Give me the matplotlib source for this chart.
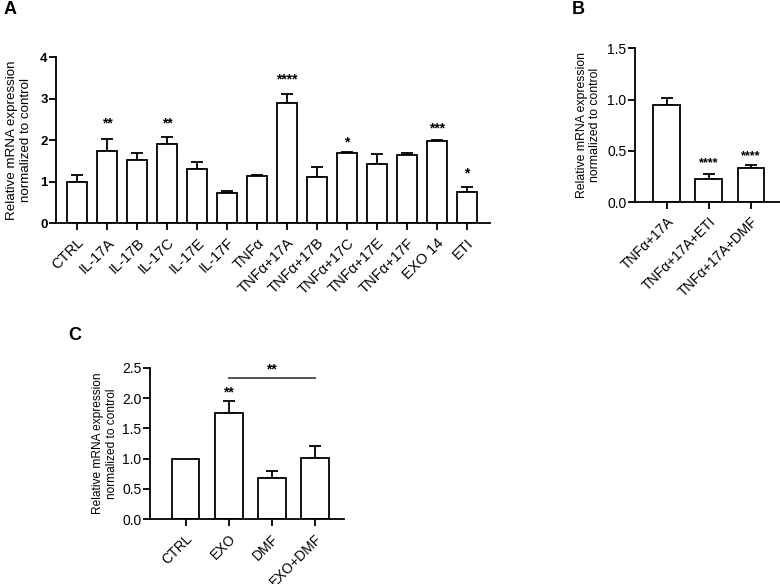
import numpy as np
import matplotlib
matplotlib.use("Agg")
import matplotlib.pyplot as plt

plt.rcParams["font.family"] = ["Liberation Sans", "DejaVu Sans"]

# ── Data ─────────────────────────────────────────────────────────────────────
a_labels = ["CTRL", "IL-17A", "IL-17B", "IL-17C", "IL-17E", "IL-17F", "TNFα",
            "TNFα+17A", "TNFα+17B", "TNFα+17C", "TNFα+17E", "TNFα+17F",
            "EXO 14", "ETI"]
a_mean = [1.00, 1.73, 1.53, 1.91, 1.30, 0.73, 1.13, 2.90, 1.10, 1.70, 1.42, 1.64, 1.98, 0.75]
a_err = [0.15, 0.29, 0.17, 0.16, 0.18, 0.05, 0.02, 0.21, 0.25, 0.02, 0.24, 0.06, 0.02, 0.11]
a_stars = ["", "**", "", "**", "", "", "", "****", "", "*", "", "", "***", "*"]
a_star_y = [0, 2.41, 0, 2.41, 0, 0, 0, 3.47, 0, 1.94, 0, 0, 2.29, 1.20]

b_labels = ["TNFα+17A", "TNFα+17A+ETI", "TNFα+17A+DMF"]
b_mean = [0.95, 0.23, 0.33]
b_err = [0.07, 0.04, 0.03]
b_stars = ["", "****", "****"]
b_star_y = [0, 0.38, 0.45]

c_labels = ["CTRL", "EXO", "DMF", "EXO+DMF"]
c_mean = [1.00, 1.76, 0.68, 1.01]
c_err = [0.0, 0.20, 0.12, 0.20]
c_stars = ["", "**", "", ""]
c_star_y = [0, 2.10, 0, 0]

YLABEL = "Relative mRNA expression\nnormalized to control"


def bar_panel(ax, labels, mean, err, stars, star_y, width, xlim, ylim, yticks, yticklabels,
              xtick_fs=10, ytick_fs=9, ytick_bold=False, ylabel_fs=9, star_fs=9, label_x=-0.2):
    x = np.arange(len(labels))
    ax.bar(x, mean, width=width, color="white", edgecolor="black", linewidth=1.3, zorder=2)
    for xi, m, e in zip(x, mean, err):
        if e > 0:
            ax.errorbar(xi, m, yerr=[[0], [e]], fmt="none", ecolor="black",
                        elinewidth=1.3, capsize=4, capthick=1.3, zorder=1)
    for xi, s, sy in zip(x, stars, star_y):
        if s:
            ax.text(xi, sy, s, ha="center", va="center", fontsize=star_fs, fontweight="bold")
    ax.set_xlim(*xlim)
    ax.set_ylim(*ylim)
    ax.set_yticks(yticks)
    ax.set_yticklabels(yticklabels, fontsize=ytick_fs,
                       fontweight="bold" if ytick_bold else "normal")
    ax.set_xticks(x)
    ax.set_xticklabels(labels, rotation=45, ha="right", rotation_mode="anchor", fontsize=xtick_fs)
    ax.spines["top"].set_visible(False)
    ax.spines["right"].set_visible(False)
    ax.spines["left"].set_linewidth(1.3)
    ax.spines["bottom"].set_linewidth(1.3)
    ax.tick_params(direction="out", length=5, width=1.3)
    ax.tick_params(axis="x", pad=4)
    ax.tick_params(axis="y", pad=1)
    ax.set_ylabel(YLABEL, fontsize=ylabel_fs, va="center")
    ax.yaxis.set_label_coords(label_x, 0.5)


fig = plt.figure(figsize=(7.8, 5.84), dpi=100)

# Panel A
axA = fig.add_axes([0.0718, 0.618, 0.556, 0.284])
bar_panel(axA, a_labels, a_mean, a_err, a_stars, a_star_y, width=0.67,
          xlim=(-0.7, 13.77), ylim=(0, 4), yticks=[0, 1, 2, 3, 4],
          yticklabels=["0", "1", "2", "3", "4"],
          xtick_fs=10.5, ytick_fs=9.5, ytick_bold=True, ylabel_fs=9.6, star_fs=10,
          label_x=-0.085)

# Panel B
axB = fig.add_axes([0.814, 0.654, 0.186, 0.263])
bar_panel(axB, b_labels, b_mean, b_err, b_stars, b_star_y, width=0.64,
          xlim=(-0.76, 2.69), ylim=(0, 1.5), yticks=[0.0, 0.5, 1.0, 1.5],
          yticklabels=["0.0", "0.5", "1.0", "1.5"],
          xtick_fs=10, ytick_fs=10, ylabel_fs=8.8, star_fs=9, label_x=-0.32)

# Panel C
axC = fig.add_axes([0.192, 0.111, 0.249, 0.259])
bar_panel(axC, c_labels, c_mean, c_err, c_stars, c_star_y, width=0.65,
          xlim=(-0.83, 3.68), ylim=(0, 2.5), yticks=[0.0, 0.5, 1.0, 1.5, 2.0, 2.5],
          yticklabels=["0.0", "0.5", "1.0", "1.5", "2.0", "2.5"],
          xtick_fs=10, ytick_fs=10, ylabel_fs=8.6, star_fs=10, label_x=-0.232)
# comparison bracket EXO vs EXO+DMF
axC.plot([1, 3], [2.33, 2.33], color="#444444", linewidth=1.3, clip_on=False)
axC.text(2, 2.47, "**", ha="center", va="center", fontsize=10, fontweight="bold")

# Panel letters
fig.text(0.005, 0.984, "A", fontsize=13, fontweight="bold", va="center")
fig.text(0.733, 0.984, "B", fontsize=13, fontweight="bold", va="center")
fig.text(0.087, 0.425, "C", fontsize=13, fontweight="bold", va="center")

fig.savefig("out.png", dpi=100)
